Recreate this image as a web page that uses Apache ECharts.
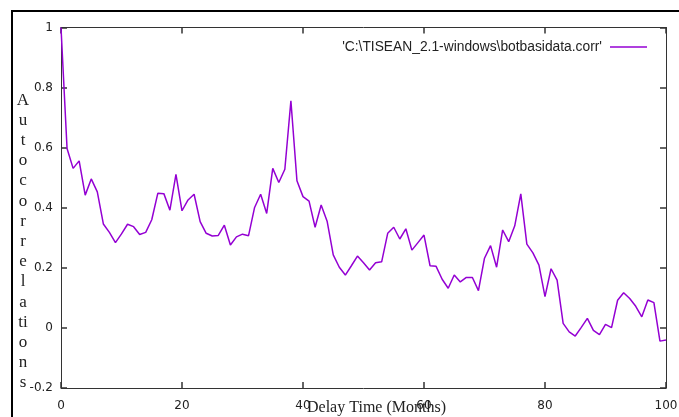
<!DOCTYPE html>
<html>
<head>
<meta charset="utf-8">
<script src="https://cdn.jsdelivr.net/npm/echarts@6/dist/echarts.min.js"></script>
<style>
  html, body { margin: 0; padding: 0; background: #fff; }
  #chart { width: 679px; height: 417px; }
</style>
</head>
<body>
<div id="chart"></div>
<script>
// Autocorrelation of the series against delay (months 0..100)
const delays = Array.from({ length: 101 }, (_, i) => i);
const autocorr = [
  1.000, 0.597, 0.531, 0.556, 0.442, 0.496, 0.453, 0.346, 0.318, 0.284,
  0.313, 0.345, 0.337, 0.311, 0.318, 0.360, 0.448, 0.447, 0.392, 0.511,
  0.390, 0.426, 0.445, 0.354, 0.315, 0.306, 0.308, 0.342, 0.276, 0.303,
  0.312, 0.307, 0.401, 0.445, 0.381, 0.531, 0.484, 0.528, 0.756, 0.490,
  0.437, 0.422, 0.335, 0.409, 0.354, 0.243, 0.202, 0.176, 0.207, 0.239,
  0.217, 0.193, 0.217, 0.220, 0.315, 0.335, 0.296, 0.330, 0.259, 0.284,
  0.309, 0.207, 0.205, 0.162, 0.132, 0.176, 0.153, 0.168, 0.168, 0.124,
  0.232, 0.274, 0.202, 0.326, 0.287, 0.340, 0.446, 0.279, 0.250, 0.209,
  0.104, 0.197, 0.159, 0.015, -0.013, -0.027, 0.002, 0.032, -0.008, -0.022,
  0.012, 0.001, 0.092, 0.117, 0.098, 0.072, 0.037, 0.093, 0.084, -0.044,
  -0.040
];
const seriesName = "'C:\\TISEAN_2.1-windows\\botbasidata.corr'";
const xTitle = 'Delay Time (Months)';
// Stacked y title, one glyph row per line ("ti" sits on one row)
const yTitleRows = ['A','u','t','o','c','o','r','r','e','l','a','ti','o','n','s'];

const axisColor = '#333';
const lineColor = '#9400D3';
const numFont = 'DejaVu Sans';

const chart = echarts.init(document.getElementById('chart'));

function makeAxis(kind, pos, showLabels) {
  const range = kind === 'x'
    ? { min: 0, max: 100, interval: 20 }
    : { min: -0.2, max: 1, interval: 0.2 };
  return Object.assign({ type: 'value', position: pos }, range, {
    axisLine: { show: true, onZero: false, lineStyle: { color: axisColor, width: 1 } },
    axisTick: { show: true, inside: true, length: 6, lineStyle: { color: axisColor, width: 1.5 } },
    splitLine: { show: false },
    axisLabel: {
      show: showLabels,
      margin: kind === 'x' ? 12 : 8,
      fontFamily: numFont, fontSize: 12, color: '#222'
    }
  });
}

chart.setOption({
  animation: false,
  backgroundColor: '#fff',
  grid: { left: 61, top: 27.5, right: 13, bottom: 29, containLabel: false, outerBoundsMode: 'none' },
  graphic: [
    {
      type: 'rect',
      shape: { x: 12, y: 11, width: 700, height: 420 },
      style: { fill: 'none', stroke: '#000', lineWidth: 2 },
      silent: true
    },
    {
      type: 'text',
      x: 23, y: 241.5,
      style: {
        text: yTitleRows.join('\n'),
        font: '17px "Liberation Serif"',
        lineHeight: 20.2,
        fill: '#222',
        align: 'center',
        verticalAlign: 'middle'
      },
      silent: true
    },
    {
      type: 'text',
      x: 376.5, y: 408,
      style: {
        text: xTitle,
        font: '16px "Liberation Serif"',
        fill: '#222',
        align: 'center',
        verticalAlign: 'middle'
      },
      silent: true
    }
  ],
  legend: {
    right: 27, top: 35,
    align: 'right',
    icon: 'rect',
    itemWidth: 37, itemHeight: 1.5,
    textStyle: { fontFamily: 'Liberation Sans', fontSize: 13.8, color: '#222', padding: [0, 3, 0, 0] },
    data: [seriesName]
  },
  xAxis: [makeAxis('x', 'bottom', true), makeAxis('x', 'top', false)],
  yAxis: [makeAxis('y', 'left', true), makeAxis('y', 'right', false)],
  series: [{
    name: seriesName,
    type: 'line',
    xAxisIndex: 0,
    yAxisIndex: 0,
    symbol: 'none',
    lineStyle: { color: lineColor, width: 1.5 },
    itemStyle: { color: lineColor },
    data: delays.map((d, i) => [d, autocorr[i]])
  }]
});
</script>
</body>
</html>
